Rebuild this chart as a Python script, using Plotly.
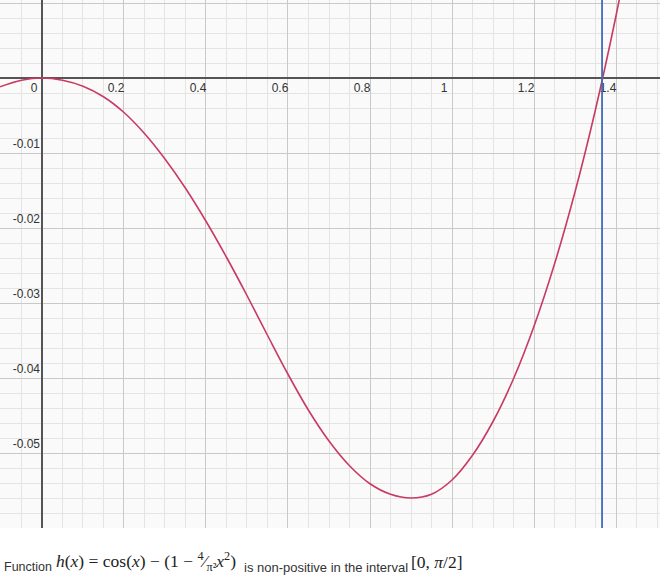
import plotly.graph_objects as go

# Curve (display coordinates)
curve_x = [-0.104, -0.05, 0.0, 0.05, 0.10, 0.15, 0.20, 0.25, 0.30, 0.35, 0.40, 0.45, 0.50,
           0.55, 0.60, 0.65, 0.70, 0.75, 0.80, 0.85, 0.90, 0.95, 1.00, 1.05, 1.10, 1.15,
           1.20, 1.25, 1.30, 1.35, 1.40, 1.45]
curve_y = [-0.0012, -0.0003, 0.0, -0.0003, -0.0011, -0.0025, -0.0046, -0.0074, -0.0108,
           -0.0147, -0.0191, -0.0239, -0.0290, -0.0343, -0.0395, -0.0443, -0.0484, -0.0517,
           -0.0541, -0.0555, -0.0560, -0.0555, -0.0536, -0.0503, -0.0458, -0.0401, -0.0331,
           -0.0248, -0.0152, -0.0042, 0.0083, 0.0223]

root_x = 1.366  # vertical blue marker

x_tick_vals = [0, 0.2, 0.4, 0.6, 0.8, 1.0, 1.2, 1.4]
x_tick_text = ["0", "0.2", "0.4", "0.6", "0.8", "1", "1.2", "1.4"]
y_tick_vals = [0.01, -0.01, -0.02, -0.03, -0.04, -0.05]
y_tick_text = ["0.01", "-0.01", "-0.02", "-0.03", "-0.04", "-0.05"]

x_range = [-0.1024, 1.5073]
y_range = [-0.060, 0.0104]

W, H = 660, 577
PLOT_H = 528

fig = go.Figure()
fig.add_trace(go.Scatter(x=curve_x, y=curve_y, mode="lines",
                         line=dict(color="#c93a63", width=1.6, shape="spline", smoothing=1.0),
                         hoverinfo="skip", showlegend=False))

fig.add_shape(type="line", xref="x", yref="paper", x0=root_x, x1=root_x, y0=0, y1=1,
              line=dict(color="#3f6db3", width=1.8))

tick_font = dict(family="Liberation Sans, Arial, sans-serif", size=12, color="#333333")

fig.update_layout(
    width=W, height=H,
    margin=dict(l=0, r=0, t=0, b=H - PLOT_H, autoexpand=False),
    paper_bgcolor="white", plot_bgcolor="#fafafa",
    showlegend=False,
    xaxis=dict(range=x_range, tickmode="array", tickvals=x_tick_vals, ticktext=x_tick_text,
               showgrid=True, gridcolor="#c9c9c9", gridwidth=1,
               minor=dict(dtick=0.05, tick0=0, showgrid=True, gridcolor="#e4e4e4", gridwidth=1),
               zeroline=True, zerolinecolor="#555555", zerolinewidth=1.5,
               showline=False, ticks="", anchor="free", automargin=False,
               position=(PLOT_H - 78) / PLOT_H,
               ticklabelshift=-8, ticklabelstandoff=1,
               tickfont=tick_font, fixedrange=True),
    yaxis=dict(range=y_range, tickmode="array", tickvals=y_tick_vals, ticktext=y_tick_text,
               showgrid=True, gridcolor="#c9c9c9", gridwidth=1,
               minor=dict(dtick=0.002, tick0=0, showgrid=True, gridcolor="#e4e4e4", gridwidth=1),
               zeroline=True, zerolinecolor="#555555", zerolinewidth=1.5,
               showline=False, ticks="", anchor="free", automargin=False,
               position=42 / W,
               ticklabelshift=-9, ticklabelstandoff=2,
               tickfont=tick_font, fixedrange=True),
)

cap_y = (PLOT_H - 567) / PLOT_H
sans = "Liberation Sans, Arial, sans-serif"
serif = "Liberation Serif, Times New Roman, serif"
fig.add_annotation(xref="paper", yref="paper", x=2 / W, y=cap_y, xanchor="left", yanchor="middle",
                   text="Function", showarrow=False,
                   font=dict(family=sans, size=12.5, color="#333333"))
fig.add_annotation(xref="paper", yref="paper", x=54 / W, y=(PLOT_H - 561) / PLOT_H,
                   xanchor="left", yanchor="middle",
                   text="<i>h</i>(<i>x</i>) = cos(<i>x</i>) − (1 − <sup>4</sup>⁄<sub>π²</sub><i>x</i><sup>2</sup>)",
                   showarrow=False, font=dict(family=serif, size=17.5, color="#222222"))
fig.add_annotation(xref="paper", yref="paper", x=242 / W, y=cap_y, xanchor="left", yanchor="middle",
                   text="is non-positive in the interval", showarrow=False,
                   font=dict(family=sans, size=13, color="#333333"))
fig.add_annotation(xref="paper", yref="paper", x=409 / W, y=(PLOT_H - 562) / PLOT_H,
                   xanchor="left", yanchor="middle",
                   text="[0, <i>π</i>/2]", showarrow=False,
                   font=dict(family=serif, size=17.5, color="#222222"))

fig.write_html("out.html", config={"displayModeBar": False},
               post_script="document.body.style.margin='0';document.body.style.overflow='hidden';")
